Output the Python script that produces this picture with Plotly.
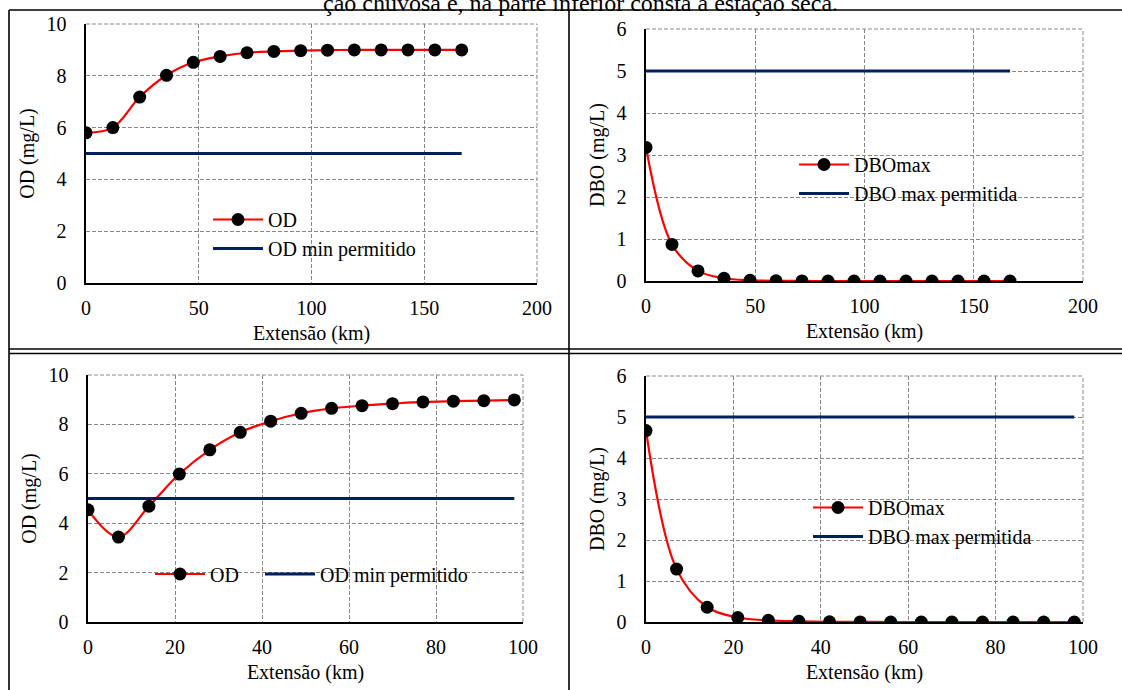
import plotly.graph_objects as go

W, H = 1122, 690

# ---------------- data ----------------
# Wet season (top row)
km_wet = [0, 11.9, 23.8, 35.7, 47.6, 59.5, 71.4, 83.3, 95.2, 107.1, 119.0, 130.9, 142.8, 154.7, 166.6]
od_wet = [5.80, 6.00, 7.18, 8.02, 8.52, 8.75, 8.89, 8.94, 8.97, 8.99, 9.00, 9.00, 9.00, 9.00, 9.00]
dbo_wet = [3.18, 0.87, 0.24, 0.065, 0.017, 0.004, 0.001, 0.0, 0.0, 0.0, 0.0, 0.0, 0.0, 0.0, 0.0]
lim_wet_x = [0, 166.6]

# Dry season (bottom row)
km_dry = [0, 7, 14, 21, 28, 35, 42, 49, 56, 63, 70, 77, 84, 91, 98]
od_dry = [4.54, 3.44, 4.69, 5.99, 6.97, 7.68, 8.13, 8.45, 8.65, 8.76, 8.84, 8.91, 8.94, 8.96, 8.99]
dbo_dry = [4.67, 1.29, 0.36, 0.11, 0.04, 0.016, 0.005, 0.002, 0.0, 0.0, 0.0, 0.0, 0.0, 0.0, 0.0]
lim_dry_x = [0, 98]

od_min = [5, 5]
dbo_max = [5, 5]

x_title = "Extensão (km)"
y_title_od = "OD (mg/L)"
y_title_dbo = "DBO (mg/L)"
top_text = "ção chuvosa e, na parte inferior consta a estação seca."

FONT = "Liberation Serif"
FS = 20
RED = "#FF0000"
NAVY = "#002060"
GRID = "#878787"

fig = go.Figure()

def add_pair(xs, ys, lim_x, lim_y, xa, ya, name1, name2, leg1, leg2):
    fig.add_trace(go.Scatter(
        x=xs, y=ys, mode="lines+markers", name=name1,
        line=dict(color=RED, width=2.2, shape="spline", smoothing=1.0),
        marker=dict(color="black", size=13),
        xaxis=xa, yaxis=ya, legend=leg1))
    fig.add_trace(go.Scatter(
        x=lim_x, y=lim_y, mode="lines", name=name2,
        line=dict(color=NAVY, width=3.2),
        xaxis=xa, yaxis=ya, legend=leg2))

add_pair(km_wet, od_wet, lim_wet_x, od_min, "x", "y", "OD", "OD min permitido", "legend", "legend")
add_pair(km_wet, dbo_wet, lim_wet_x, dbo_max, "x2", "y2", "DBOmax", "DBO max permitida", "legend2", "legend2")
add_pair(km_dry, od_dry, lim_dry_x, od_min, "x3", "y3", "OD", "OD min permitido", "legend3", "legend5")
add_pair(km_dry, dbo_dry, lim_dry_x, dbo_max, "x4", "y4", "DBOmax", "DBO max permitida", "legend4", "legend4")

def px_dom_x(a, b):
    return [a / W, b / W]

def px_dom_y(top, bottom):
    return [1 - bottom / H, 1 - top / H]

panels = {
    "1": dict(xd=px_dom_x(86, 537), yd=px_dom_y(24, 283), xr=[0, 200], xdt=50, yr=[0, 10], ydt=2, yt=y_title_od),
    "2": dict(xd=px_dom_x(646, 1083), yd=px_dom_y(29, 281), xr=[0, 200], xdt=50, yr=[0, 6], ydt=1, yt=y_title_dbo),
    "3": dict(xd=px_dom_x(88, 523), yd=px_dom_y(375, 622), xr=[0, 100], xdt=20, yr=[0, 10], ydt=2, yt=y_title_od),
    "4": dict(xd=px_dom_x(646, 1083), yd=px_dom_y(376, 622), xr=[0, 100], xdt=20, yr=[0, 6], ydt=1, yt=y_title_dbo),
}

layout = dict(
    width=W, height=H,
    margin=dict(l=0, r=0, t=0, b=0, pad=0, autoexpand=False),
    paper_bgcolor="white", plot_bgcolor="white",
    font=dict(family=FONT, size=FS, color="black"),
    showlegend=True,
)

shapes = []
for k, p in panels.items():
    sx = "" if k == "1" else k
    xa_name = "xaxis" + sx
    ya_name = "yaxis" + sx
    common = dict(showline=True, linecolor="black", linewidth=1.6, ticks="",
                  showgrid=True, gridcolor=GRID, gridwidth=1, griddash="4px,2px",
                  zeroline=False, fixedrange=True, automargin=False,
                  tickfont=dict(family=FONT, size=FS, color="black"))
    layout[xa_name] = dict(common, domain=p["xd"], range=p["xr"], dtick=p["xdt"], tick0=0,
                           anchor="y" + sx, ticklabelstandoff=6,
                           title=dict(text=x_title, standoff=8, font=dict(family=FONT, size=FS)))
    layout[ya_name] = dict(common, domain=p["yd"], range=p["yr"], dtick=p["ydt"], tick0=0,
                           anchor="x" + sx, ticklabelstandoff=14,
                           title=dict(text=p["yt"], standoff=6, font=dict(family=FONT, size=FS)))
    xr = "x" + sx + " domain"
    yr = "y" + sx + " domain"
    dash = dict(color=GRID, width=1, dash="4px,2px")
    shapes.append(dict(type="line", xref=xr, yref=yr, x0=0, x1=1, y0=1, y1=1, line=dash, layer="below"))
    shapes.append(dict(type="line", xref=xr, yref=yr, x0=1, x1=1, y0=0, y1=1, line=dash, layer="below"))

# table borders
border = dict(color="black", width=1.6)
def hline(y, x0, x1):
    shapes.append(dict(type="line", xref="paper", yref="paper", x0=x0 / W, x1=x1 / W,
                       y0=1 - y / H, y1=1 - y / H, line=border))
def vline(x, y0, y1):
    shapes.append(dict(type="line", xref="paper", yref="paper", x0=x / W, x1=x / W,
                       y0=1 - y0 / H, y1=1 - y1 / H, line=border))

hline(10, 9, 1122)
hline(349, 9, 1122)
hline(353.5, 9, 1122)
vline(9, 10, 690)
vline(569, 10, 690)

layout["shapes"] = shapes

leg_common = dict(bgcolor="rgba(0,0,0,0)", borderwidth=0, itemwidth=50,
                  font=dict(family=FONT, size=FS, color="black"),
                  xanchor="left", yanchor="middle", tracegroupgap=0, itemclick=False)
layout["legend"] = dict(leg_common, x=208 / W, y=1 - 234 / H, orientation="v")
layout["legend2"] = dict(leg_common, x=794 / W, y=1 - 179 / H, orientation="v")
layout["legend3"] = dict(leg_common, x=150 / W, y=1 - 574 / H, orientation="v")
layout["legend5"] = dict(leg_common, x=260 / W, y=1 - 574 / H, orientation="v")
layout["legend4"] = dict(leg_common, x=808 / W, y=1 - 522 / H, orientation="v")

layout["annotations"] = [dict(text=top_text, xref="paper", yref="paper", x=580 / W, y=1 - 3 / H,
                              xanchor="center", yanchor="middle", showarrow=False,
                              font=dict(family=FONT, size=24, color="black"))]

fig.update_layout(**layout)
fig.write_html("out.html", config={"displayModeBar": False, "staticPlot": True},
               post_script="document.body.style.margin='0px';document.body.style.padding='0px';")
